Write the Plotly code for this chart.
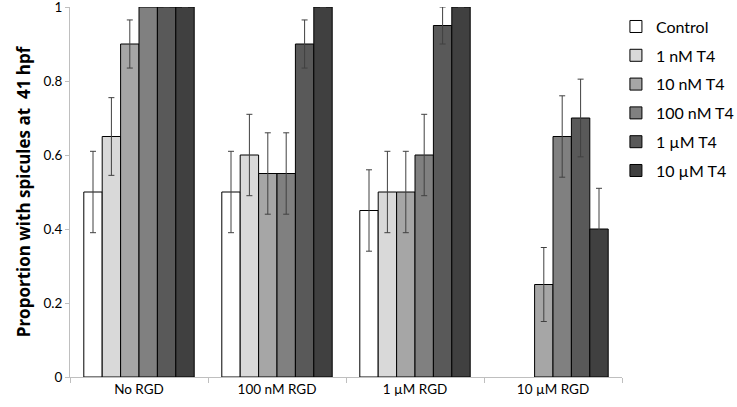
import plotly.graph_objects as go

groups = ["No RGD", "100 nM RGD", "1 µM RGD", "10 µM RGD"]
series = ["Control", "1 nM T4", "10 nM T4", "100 nM T4", "1 µM T4", "10 µM T4"]

control = [0.5, 0.5, 0.45, None]
t4_1nm = [0.65, 0.6, 0.5, None]
t4_10nm = [0.9, 0.55, 0.5, 0.25]
t4_100nm = [1.0, 0.55, 0.6, 0.65]
t4_1um = [1.0, 0.9, 0.95, 0.7]
t4_10um = [1.0, 1.0, 1.0, 0.4]

err_control = [0.11, 0.11, 0.11, None]
err_1nm = [0.105, 0.11, 0.11, None]
err_10nm = [0.065, 0.11, 0.11, 0.1]
err_100nm = [None, 0.11, 0.11, 0.11]
err_1um = [None, 0.065, 0.05, 0.105]
err_10um = [None, None, None, 0.11]

yticks = [0, 0.2, 0.4, 0.6, 0.8, 1]
ytick_labels = ["0", "0.2", "0.4", "0.6", "0.8", "1"]

values = [control, t4_1nm, t4_10nm, t4_100nm, t4_1um, t4_10um]
errors = [err_control, err_1nm, err_10nm, err_100nm, err_1um, err_10um]
colors = ["#FFFFFF", "#D9D9D9", "#A6A6A6", "#808080", "#595959", "#404040"]

fig = go.Figure()
for name, vals, errs, col in zip(series, values, errors, colors):
    fig.add_trace(go.Bar(
        x=groups, y=vals, name=name, legendgroup=name,
        marker=dict(color=col, line=dict(color="#000000", width=1)),
        error_y=dict(type="data", array=errs, color="#404040", thickness=1, width=3),
    ))

fig.update_layout(
    width=737, height=407,
    margin=dict(l=70, r=115, t=7, b=30, autoexpand=False),
    paper_bgcolor="white", plot_bgcolor="white",
    barmode="group", bargap=0.2, bargroupgap=0,
    font=dict(family="Lato", size=13, color="#000000"),
    legend=dict(x=0.989, y=0.993, xanchor="left", yanchor="top",
                font=dict(size=16), tracegroupgap=5,
                itemwidth=30, bgcolor="rgba(0,0,0,0)"),
    showlegend=True,
)
fig.update_xaxes(
    showline=True, linecolor="#BFBFBF", linewidth=1,
    ticks="outside", tickson="boundaries", ticklen=5, tickcolor="#BFBFBF",
    tickfont=dict(size=13.5), showgrid=False,
)
fig.update_yaxes(
    range=[0, 1], tickvals=yticks, ticktext=ytick_labels,
    showline=True, linecolor="#BFBFBF", linewidth=1,
    ticks="outside", ticklen=4, tickcolor="#BFBFBF",
    tickfont=dict(size=13.5), ticklabeloverflow="allow",
    showgrid=False, zeroline=False,
    title=dict(text="<b>Proportion with spicules at  41 hpf</b>",
               font=dict(family="Open Sans", size=17), standoff=8),
)

# page has a default 8px body margin; drop it so the figure sits at the window corner
fig.write_html("out.html", config={"displayModeBar": False},
               post_script="document.body.style.margin = '0';")
